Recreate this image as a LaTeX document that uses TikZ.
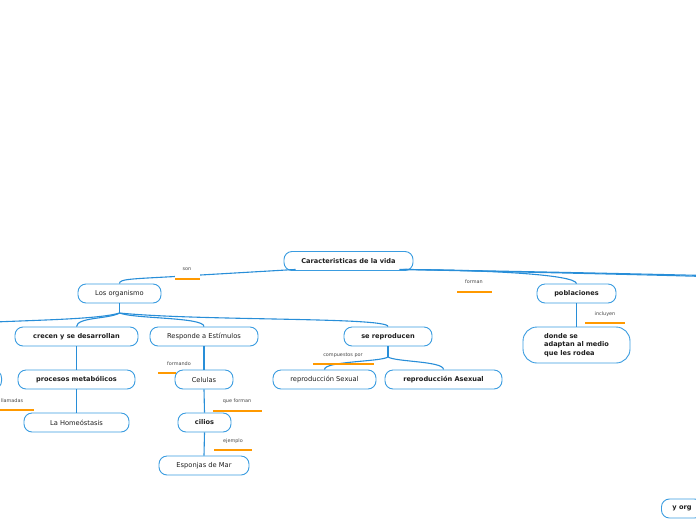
\documentclass[tikz,border=0pt]{standalone}
\usepackage{fontspec}
\setmainfont{DejaVu Sans}
\usetikzlibrary{calc}
\definecolor{nodeblue}{RGB}{58,156,224}
\definecolor{lineblue}{RGB}{40,142,216}
\definecolor{barorange}{RGB}{255,153,0}
\definecolor{txt}{RGB}{30,30,30}
\definecolor{lbltxt}{RGB}{70,70,70}
\begin{document}
\begin{tikzpicture}[x=1pt,y=-1pt,
  box/.style={draw=nodeblue, line width=0.9pt, rounded corners=8pt, fill=white,
    minimum height=19pt, inner sep=0pt, font=\fontsize{6.7}{8.6}\selectfont, text=txt},
  bbox/.style={box, font=\fontsize{6.6}{8.6}\selectfont\bfseries},
  conn/.style={draw=lineblue, line width=1.1pt},
  lbl/.style={font=\fontsize{4.9}{5}\selectfont, text=lbltxt, inner sep=0pt},
  bar/.style={draw=barorange, line width=2.6pt}]
\useasboundingbox (0,0) rectangle (696,520);
\clip (0,0) rectangle (696,520);

% nodes
\node[bbox, minimum width=129pt] (car) at (348.5,261) {Caracteristicas de la vida};
\node[box, minimum width=83pt] (org) at (119.5,293.5) {Los organismo};
\node[bbox, minimum width=79pt] (pob) at (576.5,293.5) {poblaciones};
\node[bbox, minimum width=123pt] (cre) at (76.5,336.5) {crecen y se desarrollan};
\node[box, minimum width=108pt] (res) at (204,336.5) {Responde a Estímulos};
\node[bbox, minimum width=88pt] (rep) at (388,336.5) {se reproducen};
\node[bbox, minimum width=107pt, minimum height=36pt, rounded corners=14pt, align=left] (don) at (576.5,345) {donde se\\adaptan al medio\\que les rodea};
\node[bbox, minimum width=117pt] (pro) at (76.5,379.5) {procesos metabólicos};
\node[box, minimum width=58pt] (cel) at (204,379.5) {Celulas};
\node[box, minimum width=103pt] (sex) at (324.5,379.5) {reproducción Sexual};
\node[bbox, minimum width=117pt] (ase) at (443.5,379.5) {reproducción Asexual};
\node[box, minimum width=105pt] (hom) at (76.5,422.5) {La Homeóstasis\hspace{18pt}};
\node[bbox, minimum width=53pt] (cil) at (204.5,422.5) {cilios};
\node[box, minimum width=90pt] (esp) at (204,465.5) {Esponjas de Mar};
\node[bbox, anchor=west, inner xsep=11pt] (yorg) at (661,508.5) {y org\hspace{30pt}};
\node[box, anchor=east, minimum width=60pt] (lft) at (2,379.5) {};

% off-picture ends
\coordinate (offl) at (-5,322);
\coordinate (offr1) at (705,275.5);
\coordinate (offr2) at (705,276.5);
\coordinate (orgj) at (119.5,313);
\coordinate (repj) at (388,357);

% connectors
\draw[conn] ([xshift=12pt,yshift=1.5pt]car.south west) -- (175,276.5) .. controls (130,279) and (119.5,279) .. (org.north);
\draw[conn] ([xshift=-10pt,yshift=1.5pt]car.south east) .. controls (480,270) and (575,274) .. (pob.north);
\draw[conn] ([xshift=-14pt,yshift=1.5pt]car.south east) .. controls (450,270) and (600,273) .. (offr1);
\draw[conn] ([xshift=-8pt,yshift=1.5pt]car.south east) .. controls (470,271) and (620,274) .. (offr2);

\draw[conn] (org.south) -- (orgj);
\draw[conn] (orgj) .. controls (110,319) and (77,317) .. (cre.north);
\draw[conn] (orgj) .. controls (135,319) and (204,317) .. (res.north);
\draw[conn] (orgj) .. controls (200,321) and (388,317) .. (rep.north);
\draw[conn] (orgj) .. controls (100,319) and (40,320) .. (offl);

\draw[conn] (cre.south) -- (pro.north);
\draw[conn] (pro.south) -- (hom.north);
\draw[conn] (res.south) -- (cel.north);
\draw[conn] (cel.south) -- (cil.north);
\draw[conn] (cil.south) -- (esp.north);
\draw[conn] (rep.south) -- (repj);
\draw[conn] (repj) .. controls (380,362) and (324.5,361) .. (sex.north);
\draw[conn] (repj) .. controls (396,362) and (443.5,361) .. (ase.north);
\draw[conn] (pob.south) -- (don.north);

% gap under "son"
\fill[white] (175,272.5) rectangle (200,278);

% labels
\node[lbl] (lson) at (187,269) {son};
\draw[bar] (175,279) -- (200,279);
\node[lbl] (lforman) at (474,282) {forman};
\draw[bar] (457,292) -- (492,292);
\node[lbl] (linc) at (605,314) {incluyen};
\draw[bar] (585,323) -- (625,323);
\node[lbl] (lcomp) at (343,355) {compuestos por};
\draw[bar] (313,364) -- (374,364);
\node[lbl] (lform) at (179,364) {formando};
\draw[bar] (158,373) -- (176,373);
\node[lbl] (llam) at (12,401) {llamadas};
\draw[bar] (0,410) -- (34,410);
\node[lbl] (lque) at (237,401) {que forman};
\draw[bar] (213,411) -- (262,411);
\node[lbl] (lej) at (233,441) {ejemplo};
\draw[bar] (214,450) -- (252,450);
\end{tikzpicture}
\end{document}
